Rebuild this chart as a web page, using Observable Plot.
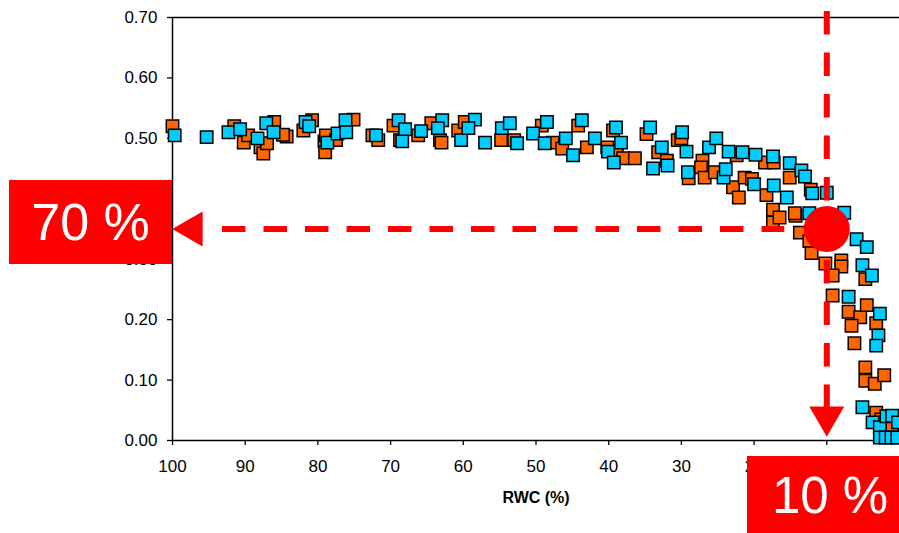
<!DOCTYPE html>
<html>
<head>
<meta charset="utf-8">
<script src="https://cdn.jsdelivr.net/npm/d3@7"></script>
<script src="https://cdn.jsdelivr.net/npm/@observablehq/plot@0.6"></script>
<style>
  html, body { margin: 0; padding: 0; background: #fff; }
  #wrap { position: relative; width: 899px; height: 533px; overflow: hidden; font-family: "Liberation Sans", Arial, sans-serif; }
  .tag { position: absolute; background: #ff0000; color: #fff; font-size: 52px; text-align: center; line-height: 1; }
</style>
</head>
<body>
<div id="wrap"></div>
<script>
// Orange series: [RWC %, value]
const orangeRWC = [100,91.5,90.2,89.6,87.9,87.5,87,86,84.3,84.8,80.8,82,79.1,79,78.9,77.5,75.1,72.5,71.7,69.6,68.7,66.2,64.4,63.2,63,60.7,59.8,54.8,53,49.2,47.7,46.4,44.2,43,40.2,39.4,38.9,38,36.4,34.8,33.2,32,30.5,30,29,27.1,27.3,26.8,25.4,22.9,22.4,22.1,21.3,20.3,18.5,17.3,18.3,17.4,17.4,16.5,15.1,14.3,13.7,12.2,14.4,12.4,12.1,10.2,8,8,9.2,4.7,9.2,7,5.4,4.5,6.6,3.2,6.2,4.7,4.7,3.4,2.1,3.2,2.5,1.5,1.0];
const orangeVal = [0.52,0.52,0.493,0.505,0.485,0.475,0.492,0.527,0.503,0.506,0.53,0.513,0.495,0.477,0.505,0.497,0.531,0.505,0.497,0.521,0.497,0.505,0.525,0.497,0.493,0.513,0.527,0.497,0.497,0.521,0.493,0.483,0.521,0.485,0.485,0.513,0.477,0.467,0.467,0.507,0.477,0.463,0.497,0.50,0.434,0.463,0.452,0.435,0.444,0.419,0.472,0.402,0.435,0.433,0.46,0.46,0.406,0.382,0.361,0.369,0.435,0.372,0.344,0.415,0.376,0.33,0.31,0.293,0.298,0.288,0.273,0.267,0.24,0.213,0.204,0.224,0.19,0.194,0.161,0.121,0.099,0.094,0.108,0.046,0.035,0.04,0.02];
// Cyan series: [RWC %, value]
const cyanRWC = [99.7,95.3,92.3,90.7,88.3,87.1,86.1,81.7,81.2,78.7,76.2,77.3,76.1,72,68.9,68,68.4,65.8,62.9,63.5,60.3,58.4,59.3,57,54.7,53.6,52.6,50.4,48.5,48.8,45.9,44.9,43.7,41.9,40.1,39,38.3,39.3,34.3,32.7,31.9,33.9,29.9,29.3,29.1,26.2,25.2,24.2,23.9,23.5,21.6,20,19.8,17.4,17.3,15.5,15.1,13.5,13,12,12.4,10,7.6,5.9,4.5,5.1,3.8,7,2.7,2.9,3.2,5.1,3.7,2.7,1.8,1.0,2.7,1.9,1.1,0.3,0.2];
const cyanVal = [0.505,0.502,0.51,0.515,0.50,0.525,0.51,0.527,0.52,0.493,0.53,0.508,0.51,0.505,0.53,0.515,0.495,0.512,0.53,0.517,0.497,0.531,0.517,0.493,0.517,0.525,0.492,0.508,0.527,0.492,0.50,0.472,0.53,0.50,0.478,0.518,0.493,0.46,0.518,0.485,0.455,0.45,0.51,0.478,0.444,0.485,0.50,0.435,0.449,0.478,0.477,0.424,0.473,0.47,0.422,0.402,0.459,0.447,0.437,0.409,0.376,0.41,0.377,0.333,0.32,0.29,0.273,0.238,0.21,0.174,0.157,0.055,0.03,0.022,0.04,0.041,0.005,0.005,0.005,0.005,0.03];

const xTicks = [100,90,80,70,60,50,40,30,20,10,0];
const yTicks = [0,0.1,0.2,0.3,0.4,0.5,0.6,0.7];
const xLabel = "RWC (%)";
// Annotation: 70 % of the plateau (~0.50) is reached at 10 % RWC
const markRWC = [10];
const markVal = [0.35];
const leftTag = "70 %";
const bottomTag = "10 %";

const orange = orangeRWC.map((x, i) => ({x, y: orangeVal[i]}));
const cyan = cyanRWC.map((x, i) => ({x, y: cyanVal[i]}));
const mark = markRWC.map((x, i) => ({x, y: markVal[i]}));

const chart = Plot.plot({
  width: 899,
  height: 533,
  marginTop: 17,
  marginBottom: 93,
  marginLeft: 172,
  marginRight: 0,
  style: {fontSize: "17px", fontFamily: "'Liberation Sans', Arial, sans-serif", color: "#000", background: "#fff", overflow: "visible"},
  x: {domain: [100, 0]},
  y: {domain: [0, 0.7]},
  marks: [
    Plot.axisX({ticks: xTicks, tickFormat: d3.format("d"), tickSize: 5, tickPadding: 14, label: null, stroke: "#000", strokeWidth: 1.3}),
    Plot.axisY({ticks: yTicks, tickFormat: d3.format(".2f"), tickSize: 5, tickPadding: 10, label: null, stroke: "#000", strokeWidth: 1.3}),
    Plot.ruleY([0], {stroke: "#000", strokeWidth: 1.5}),
    Plot.ruleY([0.7], {stroke: "#000", strokeWidth: 1.3}),
    Plot.ruleX([100], {stroke: "#000", strokeWidth: 1.5}),
    Plot.text([xLabel], {frameAnchor: "bottom", text: d => d, dy: 62, fontWeight: "bold", fontSize: 16}),
    Plot.dot(orange, {x: "x", y: "y", symbol: "square", r: 7, fill: "#ff6600", stroke: "#000", strokeWidth: 1.5}),
    Plot.dot(cyan, {x: "x", y: "y", symbol: "square", r: 7, fill: "#00ccff", stroke: "#000", strokeWidth: 1.5}),
    // horizontal dashed guide toward the y axis
    Plot.ruleY(mark, {y: "y", x1: 100, x2: "x", insetLeft: 50, insetRight: 42, stroke: "#ff0000", strokeWidth: 6, strokeDasharray: "23.5 18"}),
    Plot.dot(mark, {x: 100, y: "y", dx: 20, symbol: "triangle", rotate: -90, r: 13, fill: "#ff0000", stroke: "none"}),
    // vertical dashed guide toward the x axis
    Plot.ruleX(mark, {x: "x", y1: 0.7, y2: 0, insetTop: -6, insetBottom: 33, stroke: "#ff0000", strokeWidth: 6, strokeDasharray: "23.5 18"}),
    Plot.dot(mark, {x: "x", y: 0, dy: -24, symbol: "triangle", rotate: 180, r: 13, fill: "#ff0000", stroke: "none"}),
    Plot.dot(mark, {x: "x", y: "y", r: 23, fill: "#ff0000", stroke: "none"})
  ]
});

const wrap = document.getElementById("wrap");
wrap.appendChild(chart);

const t1 = document.createElement("div");
t1.className = "tag";
t1.textContent = leftTag;
Object.assign(t1.style, {left: "9px", top: "180px", width: "163px", height: "84px", lineHeight: "84px"});
wrap.appendChild(t1);

const t2 = document.createElement("div");
t2.className = "tag";
t2.textContent = bottomTag;
Object.assign(t2.style, {left: "747px", top: "456px", width: "166px", height: "80px", lineHeight: "80px", fontSize: "51px"});
wrap.appendChild(t2);
</script>
</body>
</html>
